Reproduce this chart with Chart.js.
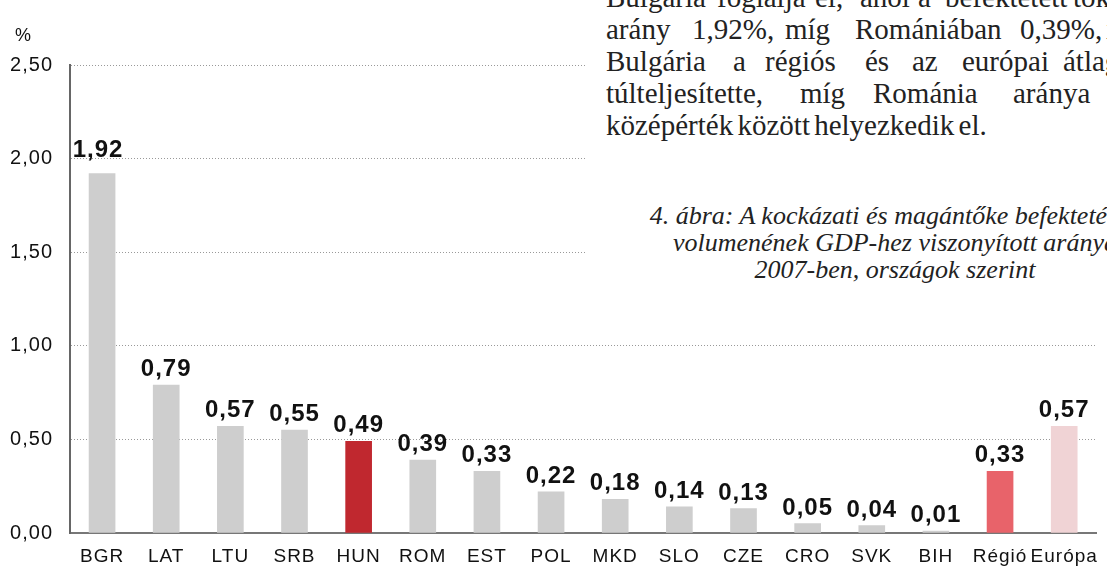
<!DOCTYPE html>
<html lang="hu">
<head>
    <meta charset="UTF-8">
    <title>Kockázati és magántőke befektetések, 2007</title>
    <script src="https://cdn.jsdelivr.net/npm/chart.js"></script>
    <style>
        html, body {
            margin: 0;
            padding: 0;
            background: #fff;
            overflow: hidden;
        }

        .wrap {
            position: relative;
            width: 1107px;
            height: 572px;
        }

        canvas {
            position: absolute;
            left: 0;
            top: 0;
        }

        /* white text box of the page that covers the top right of the chart */
        .textbox {
            position: absolute;
            left: 587px;
            top: 0;
            width: 520px;
            height: 298px;
            background: #fff;
            overflow: hidden;
        }

        .w {
            position: absolute;
            white-space: nowrap;
            font-family: "Liberation Serif", "Times New Roman", serif;
            font-size: 29px;
            line-height: 1;
            color: #222;
        }

        .cap {
            position: absolute;
            left: 0;
            width: 616px;
            text-align: center;
            white-space: nowrap;
            font-family: "Liberation Serif", "Times New Roman", serif;
            font-style: italic;
            font-size: 26px;
            line-height: 1;
            color: #222;
        }
    </style>
</head>
<body>

<div class="wrap">
    <canvas id="chart" width="1107" height="572"></canvas>
    <div class="textbox" id="textbox"></div>
</div>

<script>
    const categories = ["BGR", "LAT", "LTU", "SRB", "HUN", "ROM", "EST", "POL", "MKD", "SLO", "CZE", "CRO", "SVK", "BIH", "Régió", "Európa"];
    const values = [1.92, 0.79, 0.57, 0.55, 0.49, 0.39, 0.33, 0.22, 0.18, 0.14, 0.13, 0.05, 0.04, 0.01, 0.33, 0.57];
    const barColors = ["#cecece", "#cecece", "#cecece", "#cecece", "#c0282f", "#cecece", "#cecece", "#cecece",
                       "#cecece", "#cecece", "#cecece", "#cecece", "#cecece", "#cecece", "#e8636a", "#f0d3d5"];
    const yMin = 0;
    const yMax = 2.5;
    const yStep = 0.5;

    // paragraph lines of the page, word by word (word, left x, baseline y)
    const bodyWords = [
        ["Bulgária", 606, 7], ["foglalja", 717, 7], ["el,", 815, 7], ["ahol", 860, 7], ["a", 918, 7], ["befektetett", 945, 7], ["tőke", 1073, 7],
        ["arány", 606, 39], ["1,92%,", 692, 39], ["míg", 785, 39], ["Romániában", 855, 39], ["0,39%,", 1020, 39], ["így", 1106, 39],
        ["Bulgária", 606, 71], ["a", 733, 71], ["régiós", 765, 71], ["és", 865, 71], ["az", 912, 71], ["európai", 962, 71], ["átlagot", 1063, 71],
        ["túlteljesítette,", 606, 103], ["míg", 800, 103], ["Románia", 873, 103], ["aránya", 1013, 103], ["a", 1112, 103]
    ];
    const lastLine = "középérték között helyezkedik el.";
    const captionLines = [
        "4. ábra: A kockázati és magántőke befektetések",
        "volumenének GDP-hez viszonyított aránya",
        "2007-ben, országok szerint"
    ];
    const captionBaselines = [225, 252, 279];

    const fmt = v => v.toFixed(2).replace(".", ",");

    // text box
    const box = document.getElementById("textbox");
    bodyWords.forEach(([word, x, base]) => {
        const s = document.createElement("div");
        s.className = "w";
        s.textContent = word;
        s.style.left = (x - 587) + "px";
        s.style.top = (base - 24) + "px";
        box.appendChild(s);
    });
    const last = document.createElement("div");
    last.className = "w";
    last.textContent = lastLine;
    last.style.left = (606 - 587) + "px";
    last.style.top = (135 - 24) + "px";
    last.style.wordSpacing = "-3px";
    box.appendChild(last);
    captionLines.forEach((line, i) => {
        const c = document.createElement("div");
        c.className = "cap";
        c.textContent = line;
        c.style.left = (895 - 587 - 308) + "px";
        c.style.top = (captionBaselines[i] - 22) + "px";
        box.appendChild(c);
    });

    // the scanned chart has slightly spaced lettering
    const spacing = {
        id: "spacing",
        beforeDraw(chart) {
            chart.ctx.letterSpacing = "1px";
        }
    };

    const valueLabels = {
        id: "valueLabels",
        afterDatasetsDraw(chart) {
            const ctx = chart.ctx;
            const meta = chart.getDatasetMeta(0);
            ctx.save();
            ctx.letterSpacing = "1px";
            ctx.font = 'bold 24px "Liberation Sans", Arial, sans-serif';
            ctx.fillStyle = "#111";
            ctx.textAlign = "center";
            ctx.textBaseline = "alphabetic";
            meta.data.forEach((bar, i) => {
                const gap = i === 0 ? 17 : 9;
                ctx.fillText(fmt(values[i]), bar.x - (i === 0 ? 4 : 0), bar.y - gap);
            });
            // unit above the value axis
            ctx.letterSpacing = "0px";
            ctx.font = '18px "Liberation Sans", Arial, sans-serif';
            ctx.textAlign = "left";
            ctx.fillText("%", 15, 41);
            ctx.restore();
        }
    };

    new Chart(document.getElementById("chart"), {
        type: "bar",
        data: {
            labels: categories,
            datasets: [{
                data: values,
                backgroundColor: barColors,
                barThickness: 26
            }]
        },
        options: {
            responsive: false,
            animation: false,
            layout: { padding: { top: 65, right: 5, left: 0, bottom: 0 } },
            plugins: {
                legend: { display: false },
                tooltip: { enabled: false }
            },
            scales: {
                x: {
                    grid: { display: false, drawTicks: false },
                    border: { color: "#777", width: 2 },
                    ticks: {
                        color: "#111",
                        font: { family: "Liberation Sans", size: 19 },
                        padding: 12,
                        maxRotation: 0,
                        autoSkip: false
                    },
                    afterFit(scale) { scale.height = 39; }
                },
                y: {
                    min: yMin,
                    max: yMax,
                    grid: {
                        color: "#999",
                        lineWidth: 1,
                        drawTicks: false
                    },
                    border: { color: "#666", width: 2, dash: [1, 2] },
                    ticks: {
                        stepSize: yStep,
                        color: "#111",
                        font: { family: "Liberation Sans", size: 20 },
                        padding: 17,
                        callback: v => fmt(v)
                    },
                    afterFit(scale) { scale.width = 70; }
                }
            }
        },
        plugins: [spacing, valueLabels]
    });
</script>

</body>
</html>
